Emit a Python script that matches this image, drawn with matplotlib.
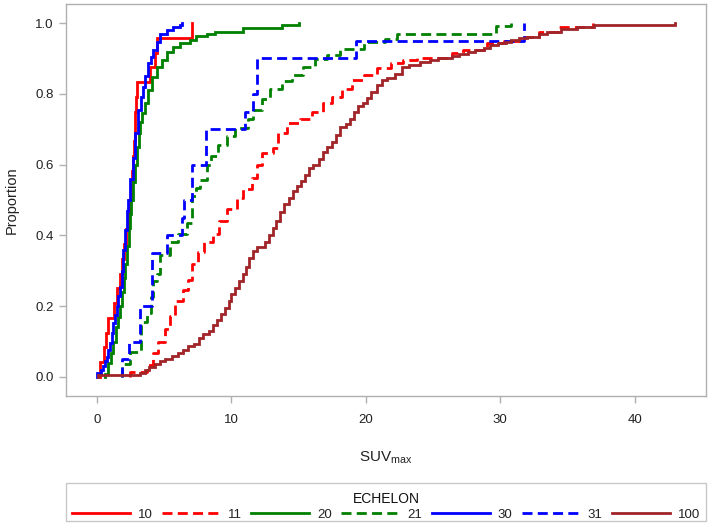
import matplotlib
matplotlib.use("Agg")
import matplotlib.pyplot as plt
from matplotlib.lines import Line2D
from matplotlib.patches import Rectangle

plt.rcParams['font.family'] = ['Liberation Sans', 'DejaVu Sans']
plt.rcParams['mathtext.fontset'] = 'custom'
plt.rcParams['mathtext.rm'] = 'Liberation Sans'
plt.rcParams['mathtext.it'] = 'Liberation Sans'

# ---- data ----
groups = ["10", "11", "20", "21", "30", "31", "100"]

# ECHELON 10 (n = 24): SUVmax values
suv_10 = [0.25, 0.5, 0.7, 0.85, 1.25, 1.5, 1.7, 1.85, 2.0, 2.15, 2.3, 2.4,
          2.5, 2.6, 2.7, 2.75, 2.8, 2.85, 2.9, 2.95, 3.95, 4.3, 4.5, 7.05]
prop_10 = [(i + 1) / 24 for i in range(24)]

# ECHELON 11: step locations and cumulative proportions
suv_11 = [2.45, 3.7, 4.2, 4.55, 5.1, 5.45, 5.8, 6.4, 6.75, 7.1, 7.5, 8.0, 8.6,
          9.1, 9.7, 10.4, 10.9, 11.5, 11.9, 12.3, 13.1, 13.5, 14.1, 15.1, 16.0,
          16.8, 17.5, 18.2, 19.0, 19.9, 20.8, 21.9, 22.8, 23.8, 26.4, 27.2,
          29.0, 30.3, 31.5, 32.9, 34.4, 36.9]
prop_11 = [0.015, 0.034, 0.068, 0.099, 0.135, 0.172, 0.214, 0.245, 0.274,
           0.32, 0.353, 0.38, 0.405, 0.44, 0.475, 0.505, 0.53, 0.562, 0.598,
           0.633, 0.647, 0.69, 0.717, 0.73, 0.75, 0.775, 0.79, 0.815, 0.84,
           0.852, 0.873, 0.886, 0.895, 0.9, 0.915, 0.924, 0.943, 0.95, 0.96,
           0.975, 0.989, 1.0]

# ECHELON 20
suv_20 = [0.6, 0.84, 1.02, 1.21, 1.4, 1.55, 1.7, 1.85, 2.0, 2.12, 2.25, 2.35,
          2.45, 2.55, 2.7, 2.85, 3.0, 3.1, 3.2, 3.32, 3.57, 3.8, 4.07, 4.44,
          4.81, 5.18, 5.67, 6.17, 6.9, 7.4, 8.16, 8.8, 10.9, 13.8, 15.0]
prop_20 = [0.008, 0.04, 0.068, 0.1, 0.14, 0.17, 0.2, 0.24, 0.28, 0.32, 0.37,
           0.42, 0.46, 0.5, 0.55, 0.6, 0.65, 0.69, 0.72, 0.745, 0.773, 0.81,
           0.848, 0.877, 0.895, 0.919, 0.933, 0.943, 0.952, 0.963, 0.969,
           0.975, 0.987, 0.994, 1.0]

# ECHELON 21
suv_21 = [1.9, 2.45, 3.3, 3.7, 4.0, 4.2, 4.5, 4.7, 5.4, 6.0, 6.7, 7.1, 7.4,
          7.7, 8.2, 8.5, 9.0, 9.7, 10.3, 11.2, 11.6, 12.3, 12.9, 13.8, 14.5,
          15.3, 16.2, 17.1, 18.1, 19.9, 21.4, 22.3, 29.7, 30.8]
prop_21 = [0.036, 0.07, 0.155, 0.18, 0.225, 0.27, 0.29, 0.345, 0.38, 0.405,
           0.435, 0.51, 0.535, 0.556, 0.6, 0.625, 0.655, 0.68, 0.703, 0.73,
           0.754, 0.785, 0.815, 0.836, 0.853, 0.876, 0.898, 0.911, 0.927,
           0.947, 0.955, 0.97, 0.993, 1.0]

# ECHELON 30
suv_30 = [0.0, 0.3, 0.47, 0.6, 0.72, 0.85, 0.97, 1.1, 1.21, 1.33, 1.46, 1.6,
          1.71, 1.85, 1.97, 2.08, 2.2, 2.3, 2.45, 2.65, 2.85, 3.05, 3.25,
          3.44, 3.6, 3.8, 4.0, 4.19, 4.44, 4.68, 5.18, 5.67, 6.17, 6.3]
prop_30 = [0.012, 0.02, 0.03, 0.045, 0.057, 0.075, 0.096, 0.125, 0.152,
           0.175, 0.2, 0.23, 0.255, 0.3, 0.36, 0.415, 0.47, 0.5, 0.56, 0.62,
           0.69, 0.754, 0.79, 0.82, 0.85, 0.886, 0.905, 0.924, 0.947, 0.97,
           0.98, 0.99, 0.994, 1.0]

# ECHELON 31 (n = 20)
suv_31 = [1.83, 2.4, 3.2, 4.1, 5.2, 6.3, 6.45, 7.05, 8.1, 11.0, 11.6, 11.9,
          19.3, 31.8]
prop_31 = [0.05, 0.10, 0.20, 0.35, 0.40, 0.45, 0.50, 0.60, 0.70, 0.75, 0.80,
           0.90, 0.95, 1.0]

# ECHELON 100
suv_100 = [0.05, 3.2, 3.6, 3.9, 4.3, 4.7, 5.1, 5.6, 6.0, 6.4, 6.8, 7.2, 7.6,
           7.9, 8.3, 8.6, 8.9, 9.2, 9.5, 9.8, 10.0, 10.3, 10.6, 10.9, 11.1,
           11.3, 11.6, 11.9, 12.5, 12.8, 13.1, 13.3, 13.6, 13.9, 14.3, 14.6,
           14.9, 15.2, 15.5, 15.8, 16.1, 16.5, 16.8, 17.1, 17.5, 17.8, 18.1,
           18.5, 18.8, 19.1, 19.4, 19.8, 20.1, 20.4, 20.8, 21.2, 21.6, 22.2,
           22.7, 23.2, 24.0, 24.8, 25.4, 26.4, 26.9, 27.6, 28.1, 28.8, 29.2,
           29.8, 30.4, 30.8, 31.4, 32.0, 32.9, 33.5, 34.5, 35.7, 37.0, 43.0]
prop_100 = [0.004, 0.012, 0.02, 0.028, 0.036, 0.044, 0.05, 0.06, 0.068,
            0.076, 0.086, 0.094, 0.11, 0.122, 0.13, 0.148, 0.16, 0.178, 0.195,
            0.215, 0.235, 0.25, 0.27, 0.29, 0.31, 0.335, 0.355, 0.367, 0.38,
            0.4, 0.42, 0.44, 0.465, 0.49, 0.505, 0.525, 0.54, 0.555, 0.57,
            0.59, 0.6, 0.615, 0.635, 0.65, 0.665, 0.685, 0.705, 0.715, 0.73,
            0.75, 0.765, 0.775, 0.788, 0.805, 0.825, 0.838, 0.845, 0.855,
            0.875, 0.882, 0.89, 0.895, 0.9, 0.907, 0.913, 0.918, 0.925, 0.93,
            0.938, 0.943, 0.948, 0.952, 0.958, 0.962, 0.97, 0.975, 0.982,
            0.988, 0.994, 1.0]

series_x = [suv_10, suv_11, suv_20, suv_21, suv_30, suv_31, suv_100]
series_p = [prop_10, prop_11, prop_20, prop_21, prop_30, prop_31, prop_100]

colors = ['#FF0000', '#FF0000', '#008000', '#008000', '#0000FF', '#0000FF', '#A02428']
dashed = [False, True, False, True, False, True, False]

xticks = [0, 10, 20, 30, 40]
yticks = [0.0, 0.2, 0.4, 0.6, 0.8, 1.0]

# ---- figure ----
W, H = 708, 523
fig = plt.figure(figsize=(W / 100, H / 100), dpi=100)
ax = fig.add_axes([66 / W, 1 - 396 / H, 640 / W, 392 / H])

lw = 2.0
dash = (0, (3.6, 1.9))
handles = []
for xs, ps, c, d, g in zip(series_x, series_p, colors, dashed, groups):
    x = [xs[0]] + list(xs)
    y = [0.0] + list(ps)
    ls = dash if d else '-'
    ax.plot(x, y, drawstyle='steps-post', color=c, lw=lw, linestyle=ls,
            solid_joinstyle='miter')
    handles.append(Line2D([0], [0], color=c, lw=lw, linestyle=ls))

ax.set_xlim(-2.3, 45.3)
ax.set_ylim(-0.054, 1.054)
ax.set_xticks(xticks)
ax.set_xticklabels([str(t) for t in xticks])
ax.set_yticks(yticks)
ax.set_yticklabels([f"{t:.1f}" for t in yticks])

frame_c = '#B0B0B0'
for s in ax.spines.values():
    s.set_color(frame_c)
    s.set_linewidth(1.0)
ax.tick_params(axis='both', colors=frame_c, labelcolor='#222222',
               length=5, width=1.0, labelsize=9.5, direction='out')
ax.tick_params(axis='x', pad=8)
ax.tick_params(axis='y', pad=4)

ax.set_xlabel(r'SUV$_{\mathrm{max}}$', fontsize=11, color='#222222', labelpad=17)
ax.set_ylabel('Proportion', fontsize=10.5, color='#222222', labelpad=12)

leg = fig.legend(handles, groups, ncol=7, title='ECHELON',
                 loc='lower left',
                 bbox_to_anchor=(66 / W, -4 / H, 640 / W, 38 / H),
                 mode='expand', frameon=False,
                 borderaxespad=0, handlelength=4.4,
                 handletextpad=0.6, columnspacing=1.0, borderpad=0.45,
                 labelspacing=0.2, fontsize=9.5, title_fontsize=10)
leg.get_title().set_color('#111111')
for t in leg.get_texts():
    t.set_color('#222222')

fig.patches.append(Rectangle((66 / W, 1 - 521 / H), 640 / W, 38 / H,
                             transform=fig.transFigure, fill=False,
                             edgecolor='#C8C8C8', linewidth=1.0))

fig.savefig('out.png', dpi=100)
